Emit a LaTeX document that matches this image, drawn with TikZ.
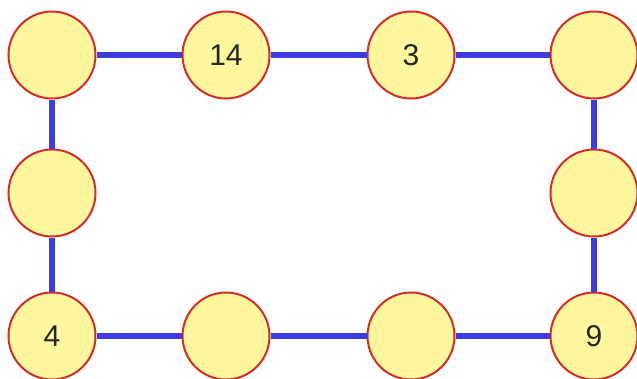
\documentclass[tikz,border=0pt]{standalone}
\usepackage{fontspec}
\setmainfont{Liberation Sans}
\definecolor{cfill}{RGB}{255,247,158}
\definecolor{cedge}{RGB}{210,45,40}
\definecolor{cline}{RGB}{60,60,225}
\begin{document}
\begin{tikzpicture}[x=1pt,y=-1pt,
  cnode/.style={circle,draw=cedge,line width=2pt,fill=cfill,minimum size=87pt,inner sep=0pt,font=\fontsize{30}{30}\selectfont,text=black!85},
  conn/.style={draw=cline,line width=5.5pt}]
\useasboundingbox[fill=white] (0,0) rectangle (637,378);
\node[cnode] (a1) at (52,55) {};
\node[cnode] (a2) at (226,55) {14};
\node[cnode] (a3) at (411,55) {3};
\node[cnode] (a4) at (594,55) {};
\node[cnode] (b1) at (52,193) {};
\node[cnode] (b4) at (594,193) {};
\node[cnode] (c1) at (52,336) {4};
\node[cnode] (c2) at (226,336) {};
\node[cnode] (c3) at (411,336) {};
\node[cnode] (c4) at (594,336) {9};
\draw[conn] (a1) -- (a2);
\draw[conn] (a2) -- (a3);
\draw[conn] (a3) -- (a4);
\draw[conn] (a1) -- (b1);
\draw[conn] (b1) -- (c1);
\draw[conn] (a4) -- (b4);
\draw[conn] (b4) -- (c4);
\draw[conn] (c1) -- (c2);
\draw[conn] (c2) -- (c3);
\draw[conn] (c3) -- (c4);
\end{tikzpicture}
\end{document}
